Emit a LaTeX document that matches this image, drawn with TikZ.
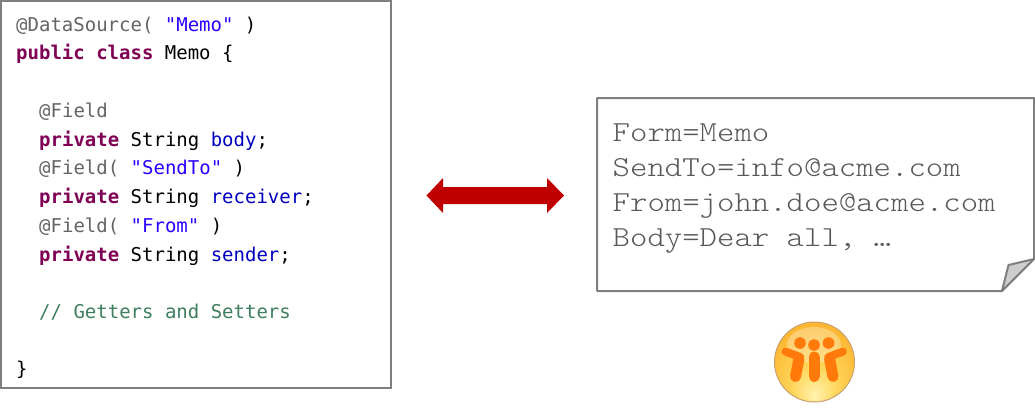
\documentclass[tikz,border=0pt]{standalone}
\usepackage{fontspec}
\setmonofont{DejaVu Sans Mono}
\newfontfamily\notefont[FakeStretch=1.143]{Latin Modern Mono Light}
\definecolor{frame}{HTML}{7F7F7F}
\definecolor{annot}{HTML}{646464}
\definecolor{kw}{HTML}{7F0055}
\definecolor{str}{HTML}{2A00FF}
\definecolor{fld}{HTML}{0000C0}
\definecolor{cmt}{HTML}{3F7F5F}
\definecolor{notetxt}{HTML}{595959}
\definecolor{arrowred}{HTML}{C00000}
\definecolor{fold}{HTML}{CDCDCD}
\definecolor{orA}{HTML}{FF7A0A}
\definecolor{orbA}{HTML}{FFF3B0}
\definecolor{orbB}{HTML}{FFD55A}
\definecolor{orbC}{HTML}{FDB833}
\definecolor{orbD}{HTML}{F5A628}
\definecolor{rim}{HTML}{C9A070}
\pgfdeclareradialshading{orb}{\pgfpoint{0bp}{-22bp}}{
  color(0bp)=(orbA);
  color(14bp)=(orbB);
  color(30bp)=(orbC);
  color(50bp)=(orbD)}
\tikzset{
  codeline/.style={anchor=base west,inner sep=0pt,font=\ttfamily\fontsize{19}{19}\selectfont,text=black},
  noteline/.style={anchor=base west,inner sep=0pt,font=\notefont\fontsize{29}{29}\selectfont,text=notetxt},
  panel/.style={draw=frame,line width=2pt,fill=white},
  person/.style={draw=orA,line cap=round,line join=round},
}
\newcommand{\Kw}[1]{\textcolor{kw}{\textbf{#1}}}
\newcommand{\An}[1]{\textcolor{annot}{#1}}
\newcommand{\St}[1]{\textcolor{str}{#1}}
\newcommand{\Fd}[1]{\textcolor{fld}{#1}}
\begin{document}
\begin{tikzpicture}[x=1pt,y=-1pt]
\useasboundingbox (0,0) rectangle (1035,408);
% code panel
\draw[panel] (1,1) rectangle (391,388);
\node[codeline] (l1) at (16,31) {\An{@DataSource(} \St{"Memo"} )};
\node[codeline] (l2) at (16,59) {\Kw{public} \Kw{class} Memo \{};
\node[codeline] (l3) at (39,117) {\An{@Field}};
\node[codeline] (l4) at (39,146) {\Kw{private} String \Fd{body};};
\node[codeline] (l5) at (39,174) {\An{@Field(} \St{"SendTo"} )};
\node[codeline] (l6) at (39,203) {\Kw{private} String \Fd{receiver};};
\node[codeline] (l7) at (39,232) {\An{@Field(} \St{"From"} )};
\node[codeline] (l8) at (39,261) {\Kw{private} String \Fd{sender};};
\node[codeline] (l9) at (39,318) {\textcolor{cmt}{// Getters and Setters}};
\node[codeline] (l10) at (16,375) {\}};
% double arrow
\fill[arrowred] (426.5,195.5) -- (443,178) -- (443,187) -- (547,187) -- (547,178) -- (564,195.5)
  -- (547,213) -- (547,204) -- (443,204) -- (443,213) -- cycle;
% note
\draw[panel,line join=round] (597,98) -- (1034,98) -- (1034,259) -- (1002,291) -- (597,291) -- cycle;
\draw[draw=frame,line width=2pt,fill=fold,line join=round] (1002,291) -- (1008.5,265) -- (1034,259) -- cycle;
\node[noteline] (n1) at (612.5,141) {Form=Memo};
\node[noteline] (n2) at (612.5,176) {SendTo=info@acme.com};
\node[noteline] (n3) at (612.5,211) {From=john.doe@acme.com};
\node[noteline] (n4) at (612.5,246) {Body=Dear all, …};
% logo
\shade[shading=orb] (814.5,362) circle (40);
\draw[draw=rim,line width=1pt] (814.5,362) circle (40);
\fill[white,opacity=.3] (814,345) ellipse (27 and 18);
\fill[orA] (800,343) circle (5.8);
\fill[orA] (814,345) circle (5.8);
\fill[orA] (828.5,343) circle (5.8);
\draw[person,line width=8pt] (785.5,351.5) -- (800,357);
\draw[person,line width=11pt] (799,358.5) -- (795.5,376.5);
\draw[person,line width=11pt] (814,357) -- (814,376.5);
\draw[person,line width=8pt] (843,351.5) -- (828.5,357);
\draw[person,line width=11pt] (829.5,358.5) -- (833,376.5);
\end{tikzpicture}
\end{document}
